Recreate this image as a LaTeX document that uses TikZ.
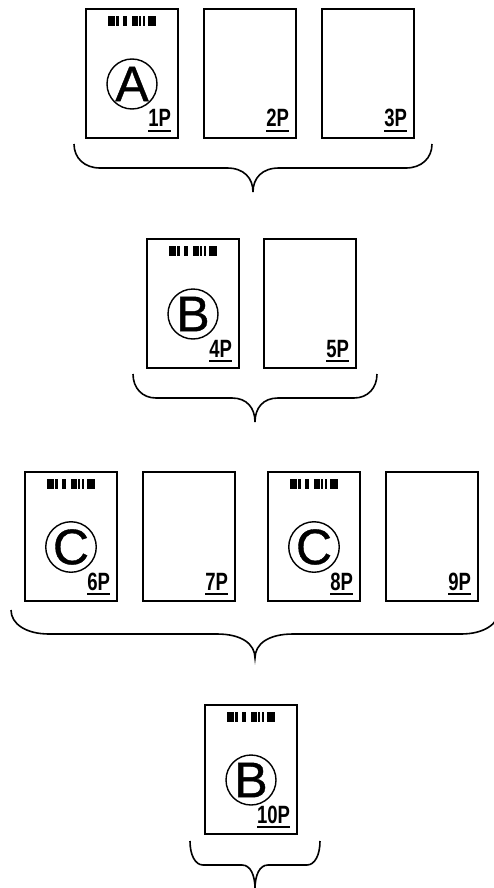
\documentclass[tikz,border=0pt]{standalone}
\usepackage{fontspec}
\setmainfont[FakeBold=0.8]{Liberation Sans}
\newfontfamily\labelfont[FakeStretch=0.74,BoldFont={Liberation Sans Bold}]{Liberation Sans}
\tikzset{
	pagebox/.style={draw,line width=1.7pt,anchor=north west,outer sep=0pt,minimum width=92pt,minimum height=129pt,inner sep=0pt},
	markcircle/.style={draw,circle,line width=1.4pt,minimum size=50pt,inner sep=0pt,font=\fontsize{50pt}{50pt}\selectfont},
	pagelabel/.style={anchor=base east,inner xsep=0pt,inner ysep=4pt,outer sep=0pt,font=\labelfont\bfseries\fontsize{25pt}{25pt}\selectfont},
	bracket/.style={line width=1.6pt}
}
% page with its number, underlined
\newcommand{\docpage}[4]{
	\node[pagebox] (page#1) at (#2,#3) {};
	\node[pagelabel] (num#1) at ([xshift=85pt,yshift=-118pt]page#1.north west) {#4};
	\draw[line width=2pt] (num#1.south west) -- (num#1.south east);
}
% barcode and circled letter of a first page
\newcommand{\docmark}[2]{
	\foreach \a/\b in {0/6.5,7.5/10.5,14.5/19,24/30,31/33,34.5/37,40/48}
		\fill ([xshift=22+\a,yshift=-7pt]page#1.north west) rectangle ([xshift=22+\b,yshift=-17pt]page#1.north west);
	\node[markcircle] (mark#1) at ([xshift=46pt,yshift=-75pt]page#1.north west) {#2};
}
% left, right, middle, top, corner size
\newcommand{\pagebrace}[5]{
	\draw[bracket] (#1,#4) .. controls (#1,{#4+14}) and ({#1+#5*0.4},{#4+24}) .. ({#1+#5},{#4+24})
		-- ({#3-#5},{#4+24}) .. controls ({#3-#5*0.35},{#4+24}) and (#3,{#4+34}) .. (#3,{#4+48})
		.. controls (#3,{#4+34}) and ({#3+#5*0.35},{#4+24}) .. ({#3+#5},{#4+24})
		-- ({#2-#5},{#4+24}) .. controls ({#2-#5*0.4},{#4+24}) and (#2,{#4+14}) .. (#2,#4);
}
\begin{document}
\begin{tikzpicture}[x=1pt,y=-1pt]
	\useasboundingbox (0,0) rectangle (493,888);

	% First group
	\docpage{1}{86}{9}{1P}
	\docpage{2}{204}{9}{2P}
	\docpage{3}{322}{9}{3P}
	\docmark{1}{A}
	\pagebrace{74}{432}{253}{144}{26}

	% Second group
	\docpage{4}{147}{239}{4P}
	\docpage{5}{264}{239}{5P}
	\docmark{4}{B}
	\pagebrace{133}{377}{255}{374}{23}

	% Third group
	\docpage{6}{25}{472}{6P}
	\docpage{7}{143}{472}{7P}
	\docpage{8}{268}{472}{8P}
	\docpage{9}{386}{472}{9P}
	\docmark{6}{C}
	\docmark{8}{C}
	\pagebrace{11}{499}{255}{610}{38}

	% Last group
	\docpage{10}{205}{705}{10P}
	\docmark{10}{B}
	\pagebrace{190}{320}{255}{841}{13}
\end{tikzpicture}
\end{document}
